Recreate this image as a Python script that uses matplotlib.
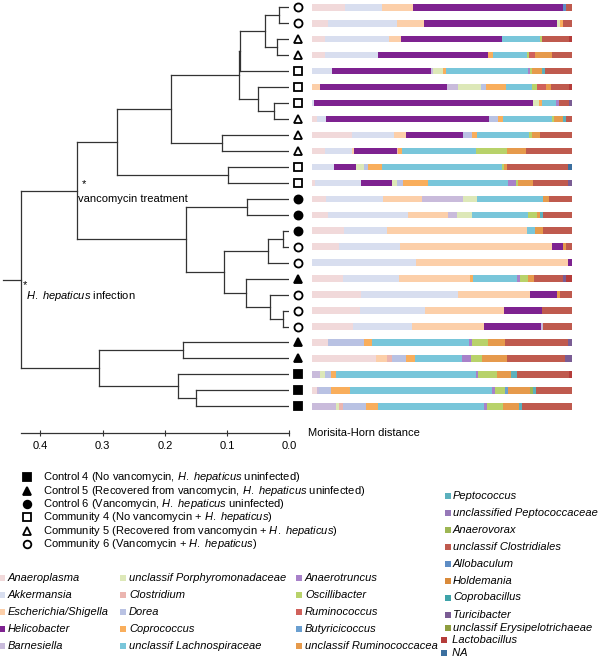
import matplotlib
matplotlib.use('Agg')
import matplotlib.pyplot as plt
import numpy as np

plt.rcParams['font.family'] = ['Liberation Sans', 'DejaVu Sans']
plt.rcParams['mathtext.fontset'] = 'custom'
plt.rcParams['mathtext.rm'] = 'Liberation Sans'
plt.rcParams['mathtext.it'] = 'Liberation Sans:italic'

# genera (legend order), short codes and colours
genera = ['Anaeroplasma', 'Akkermansia', 'Escherichia/Shigella', 'Helicobacter', 'Barnesiella',
          'unclassif Porphyromonadaceae', 'Clostridium', 'Dorea', 'Coprococcus',
          'unclassif Lachnospiraceae', 'Anaerotruncus', 'Oscillibacter', 'Ruminococcus',
          'Butyricicoccus', 'unclassif Ruminococcacea', 'Peptococcus',
          'unclassified Peptococcaceae', 'Anaerovorax', 'unclassif Clostridiales',
          'Allobaculum', 'Holdemania', 'Coprobacillus', 'Turicibacter',
          'unclassif Erysipelotrichaeae', ' Lactobacillus', ' NA']
genus_codes = ['AP', 'AK', 'ES', 'HE', 'BA', 'PO', 'CL', 'DO', 'CO', 'LA', 'AT', 'OS', 'RU',
               'BU', 'UR', 'PE', 'UP', 'AV', 'UC', 'AL', 'HO', 'CB', 'TU', 'ER', 'LB', 'NA']
genus_colors = ['#f1d9da', '#d8deef', '#fccfa9', '#7e2290', '#c9bbdb', '#dde8b8', '#ebb5b0',
                '#b9c2e3', '#f9ae5c', '#79c6da', '#a881c9', '#b8d26a', '#d0615b', '#6a9fd0',
                '#e69a4c', '#5bb0bd', '#9678b8', '#9db653', '#bf5a4e', '#5d8cc4', '#d98a3a',
                '#3ea3a9', '#7a5c94', '#8e9d3f', '#b53c3a', '#3b6f9f']
color_of = dict(zip(genus_codes, genus_colors))

# sample groups, top to bottom in the tree
leaf_groups = ['com6', 'com6', 'com5', 'com5', 'com4', 'com4', 'com4', 'com5', 'com5', 'com5',
               'com4', 'com4', 'ctl6', 'ctl6', 'ctl6', 'com6', 'com6', 'ctl5', 'com6', 'com6',
               'com6', 'ctl5', 'ctl5', 'ctl4', 'ctl4', 'ctl4']

group_order = ['ctl4', 'ctl5', 'ctl6', 'com4', 'com5', 'com6']
group_labels = [r'Control 4 (No vancomycin, $\mathit{H.\ hepaticus}$ uninfected)',
                r'Control 5 (Recovered from vancomycin, $\mathit{H.\ hepaticus}$ uninfected)',
                r'Control 6 (Vancomycin, $\mathit{H.\ hepaticus}$ uninfected)',
                r'Community 4 (No vancomycin + $\mathit{H.\ hepaticus)}$',
                r'Community 5 (Recovered from vancomycin + $\mathit{H.\ hepaticus)}$',
                r'Community 6 (Vancomycin + $\mathit{H.\ hepaticus)}$']
group_markers = {'ctl4': ('s', True), 'ctl5': ('^', True), 'ctl6': ('o', True),
                 'com4': ('s', False), 'com5': ('^', False), 'com6': ('o', False)}

# hierarchical clustering merges (child a, child b, Morisita-Horn distance)
# leaves are 0..25, new nodes numbered from 26 in this order
merges = [(0, 1, 0.0166), (2, 3, 0.019), (26, 27, 0.039), (6, 7, 0.0246),
          (28, 4, 0.0792), (5, 29, 0.050), (30, 31, 0.0805), (8, 9, 0.109),
          (32, 33, 0.1907), (10, 11, 0.099), (34, 35, 0.2765), (12, 13, 0.0685),
          (14, 15, 0.0096), (38, 16, 0.0347), (19, 20, 0.0106), (18, 40, 0.031),
          (17, 41, 0.070), (39, 42, 0.1045), (37, 43, 0.1666), (36, 44, 0.3408),
          (21, 22, 0.1704), (24, 25, 0.15), (23, 47, 0.1785), (46, 48, 0.3055),
          (45, 49, 0.4314)]
root_top = 0.46

# relative abundance (%) per sample, top to bottom
bars = [
    [('AP', 12.8), ('AK', 14.1), ('ES', 12.2), ('HE', 57.7), ('AL', 0.9), ('UC', 2.3)],
    [('AP', 6.4), ('AK', 26.3), ('ES', 10.5), ('HE', 51.3), ('PO', 1.0), ('CO', 1.3), ('UC', 3.2)],
    [('AP', 5.1), ('AK', 24.7), ('ES', 4.5), ('HE', 38.8), ('LA', 14.6), ('OS', 0.9), ('UC', 10.4), ('LB', 0.9)],
    [('AP', 5.1), ('AK', 20.5), ('HE', 42.0), ('CO', 1.9), ('LA', 13.1), ('OS', 1.0), ('RU', 2.2),
     ('UR', 6.4), ('UC', 7.7)],
    [('AK', 7.7), ('HE', 38.2), ('BA', 0.9), ('PO', 3.6), ('CO', 1.2), ('LA', 31.8), ('AT', 0.6),
     ('OS', 0.9), ('UR', 3.6), ('PE', 1.3), ('UC', 10.3)],
    [('ES', 3.2), ('HE', 48.7), ('BA', 4.5), ('PO', 8.7), ('DO', 1.9), ('CO', 7.7), ('LA', 10.0),
     ('OS', 1.9), ('RU', 3.5), ('UR', 1.9), ('UC', 7.0), ('LB', 0.9)],
    [('AK', 1.0), ('HE', 84.2), ('PO', 2.0), ('CO', 1.3), ('LA', 5.4), ('AT', 1.3), ('UC', 3.8), ('TU', 0.9)],
    [('AP', 1.9), ('AK', 3.6), ('HE', 62.6), ('DO', 3.3), ('CO', 2.0), ('LA', 18.8), ('OS', 0.9),
     ('UR', 3.3), ('PE', 1.2), ('UC', 2.3)],
    [('AP', 15.4), ('AK', 16.4), ('ES', 4.4), ('HE', 21.9), ('DO', 3.5), ('CO', 2.2), ('LA', 19.7),
     ('OS', 1.2), ('UR', 3.2), ('UC', 12.2)],
    [('AP', 5.1), ('AK', 10.3), ('ES', 0.9), ('HE', 16.4), ('CL', 0.6), ('CO', 1.3), ('LA', 28.5),
     ('OS', 11.9), ('UR', 7.4), ('UC', 17.6)],
    [('AK', 8.6), ('HE', 8.5), ('PO', 3.2), ('DO', 1.3), ('CO', 5.4), ('LA', 46.2), ('OS', 0.9),
     ('UR', 1.0), ('UC', 23.7), ('NA', 1.3)],
    [('AP', 1.3), ('AK', 17.7), ('HE', 11.8), ('PO', 1.9), ('DO', 2.3), ('CO', 9.6), ('LA', 31.0),
     ('AT', 3.0), ('OS', 0.9), ('UR', 5.5), ('UC', 13.7), ('TU', 1.3)],
    [('AP', 5.5), ('AK', 22.0), ('ES', 14.7), ('BA', 16.0), ('PO', 5.4), ('LA', 25.4), ('UR', 2.2), ('UC', 8.7)],
    [('AP', 6.4), ('AK', 30.5), ('ES', 15.4), ('BA', 3.5), ('PO', 5.8), ('LA', 21.5), ('OS', 3.6),
     ('UR', 1.2), ('PE', 1.3), ('UC', 10.9)],
    [('AP', 12.6), ('AK', 16.3), ('ES', 53.8), ('LA', 3.2), ('UR', 3.2), ('UC', 10.9)],
    [('AP', 10.6), ('AK', 23.3), ('ES', 58.3), ('HE', 4.5), ('UR', 0.9), ('UC', 2.3)],
    [('AK', 40.0), ('ES', 58.7), ('HE', 1.3)],
    [('AP', 11.9), ('AK', 21.8), ('ES', 27.2), ('CO', 1.0), ('LA', 17.2), ('AT', 1.0), ('OS', 3.2),
     ('UR', 2.2), ('UC', 11.3), ('TU', 0.9), ('LB', 2.3)],
    [('AP', 19.0), ('AK', 37.2), ('ES', 27.8), ('HE', 10.5), ('UR', 1.0), ('UC', 4.5)],
    [('AP', 18.6), ('AK', 25.0), ('ES', 30.1), ('HE', 14.7), ('UC', 11.5)],
    [('AP', 15.8), ('AK', 23.0), ('ES', 27.7), ('HE', 21.7), ('BA', 1.0), ('UC', 10.9)],
    [('AP', 6.4), ('DO', 13.7), ('CO', 3.2), ('LA', 37.2), ('AT', 1.0), ('OS', 6.4), ('UR', 6.4),
     ('UC', 24.4), ('TU', 1.3)],
    [('AP', 24.7), ('ES', 4.1), ('CL', 1.9), ('DO', 5.5), ('CO', 3.5), ('LA', 18.2), ('AT', 3.2),
     ('OS', 4.5), ('UR', 9.6), ('UC', 22.2), ('TU', 2.6)],
    [('BA', 3.2), ('PO', 1.9), ('DO', 2.2), ('CO', 2.0), ('LA', 53.7), ('AT', 1.0), ('OS', 7.3),
     ('UR', 5.3), ('PE', 2.2), ('UC', 20.3), ('LB', 0.9)],
    [('AP', 1.9), ('BA', 1.0), ('DO', 4.5), ('CO', 7.3), ('LA', 54.7), ('AT', 0.9), ('OS', 4.0),
     ('BU', 1.3), ('UR', 8.3), ('AV', 1.3), ('PE', 1.0), ('UC', 13.7)],
    [('BA', 9.4), ('PO', 1.3), ('CL', 1.3), ('DO', 9.0), ('CO', 4.4), ('LA', 41.0), ('AT', 1.0),
     ('OS', 6.2), ('UR', 6.3), ('PE', 1.3), ('UC', 19.0)],
]

W, H = 600, 660
fig = plt.figure(figsize=(W / 100, H / 100), dpi=100)

def px_box(x0, y0, x1, y1):
    return [x0 / W, 1 - y1 / H, (x1 - x0) / W, (y1 - y0) / H]

def marker_size(m):
    return 6.3 if m == '^' else 5.8

n = len(leaf_groups)
ylim = (26.67, -0.457)
line_col = '#333333'

# ---- dendrogram ----
ax = fig.add_axes(px_box(0, 0, 289.3, 433))
ax.set_xlim(0.4651, 0)
ax.set_ylim(*ylim)

node_x = {i: 0.0 for i in range(n)}
node_y = {i: float(i) for i in range(n)}
for k, (a, b, h) in enumerate(merges):
    nid = n + k
    for c in (a, b):
        ax.plot([node_x[c], h], [node_y[c], node_y[c]], color=line_col, lw=0.9)
    ax.plot([h, h], [node_y[a], node_y[b]], color=line_col, lw=0.9)
    node_x[nid] = h
    node_y[nid] = (node_y[a] + node_y[b]) / 2
root = n + len(merges) - 1
ax.plot([node_x[root], root_top], [node_y[root], node_y[root]], color=line_col, lw=0.9,
        clip_on=False)

# leaf symbols
for i, g in enumerate(leaf_groups):
    m, filled = group_markers[g]
    ax.plot(-0.014, i, marker=m, ms=marker_size(m), mfc='black' if filled else 'white',
            mec='black', mew=1.3, clip_on=False, zorder=5)

# annotations
ax.text(0.33, 11.07, '*', fontsize=8, ha='center', va='center')
ax.text(0.3397, 12.0, 'vancomycin treatment', fontsize=8, ha='left', va='center')
ax.text(0.4249, 17.4, '*', fontsize=8, ha='center', va='center')
ax.text(0.4233, 18.1, r'$\mathit{H.\ hepaticus}$ infection', fontsize=8, ha='left', va='center')

for s in ['top', 'right', 'left']:
    ax.spines[s].set_visible(False)
ax.spines['bottom'].set_bounds(0, 0.4318)
ax.spines['bottom'].set_color(line_col)
ax.spines['bottom'].set_linewidth(0.9)
ax.set_yticks([])
ax.set_xticks([0.4, 0.3, 0.2, 0.1, 0.0])
ax.set_xticklabels(['0.4', '0.3', '0.2', '0.1', '0.0'])
ax.tick_params(axis='x', direction='inout', length=4, width=0.8, color=line_col,
               labelsize=8, pad=4)
ax.patch.set_visible(False)

# ---- stacked bars ----
bx = fig.add_axes(px_box(311.7, 0, 571.7, 433))
bx.set_xlim(0, 100)
bx.set_ylim(*ylim)
bx.axis('off')
for i, segs in enumerate(bars):
    total = sum(v for _, v in segs)
    left = 0.0
    for code, v in segs:
        w = v * 100.0 / total
        bx.barh(i, w, left=left, height=0.41, color=color_of[code], linewidth=0)
        left += w

# ---- legends (pixel overlay) ----
lx = fig.add_axes([0, 0, 1, 1], zorder=-1)
lx.set_xlim(0, W)
lx.set_ylim(H, 0)
lx.axis('off')

lx.text(308, 433, 'Morisita-Horn distance', fontsize=8, ha='left', va='center')

for k, g in enumerate(group_order):
    yy = 477.3 + 13.33 * k
    m, filled = group_markers[g]
    lx.plot(27, yy, marker=m, ms=marker_size(m) - 0.3, mfc='black' if filled else 'white',
            mec='black', mew=1.3)
    lx.text(43, yy, group_labels[k], fontsize=8, ha='left', va='center')

col_x = [2, 123, 299]
for k in range(15):
    col, row = divmod(k, 5)
    yy = 578 + 17 * row
    lx.plot(col_x[col], yy, marker='s', ms=3.8, color=genus_colors[k], mew=0)
    lx.text(col_x[col] + 6, yy, genera[k], fontsize=8, style='italic', ha='left', va='center')

col4_y = [496, 512.5, 530, 547, 564, 581, 597.5, 615, 628, 640, 653]
for j, yy in enumerate(col4_y):
    k = 15 + j
    mx = 448 if k < 24 else 444
    lx.plot(mx, yy, marker='s', ms=3.8, color=genus_colors[k], mew=0)
    lx.text(mx + 5, yy, genera[k], fontsize=8, style='italic', ha='left', va='center')

fig.savefig('out.png', dpi=100)
